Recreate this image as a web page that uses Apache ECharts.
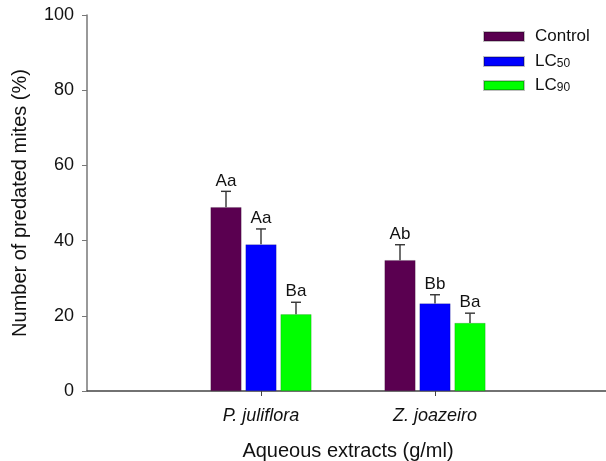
<!DOCTYPE html>
<html>
<head>
<meta charset="utf-8">
<script src="https://cdn.jsdelivr.net/npm/echarts@6/dist/echarts.min.js"></script>
<style>
  html, body { margin: 0; padding: 0; background: #fff; }
  #chart { width: 606px; height: 461px; }
</style>
</head>
<body>
<div id="chart"></div>
<script>
// Predation by extract and concentration (mean ± SE) with significance letters
const categories = ['P. juliflora', 'Z. joazeiro'];
const seriesNames = ['Control', 'LC50', 'LC90'];

const controlValues = [48.9, 34.8];
const controlErrors = [4.2, 4.1];
const controlLetters = ['Aa', 'Ab'];

const lc50Values = [39.0, 23.3];
const lc50Errors = [4.1, 2.3];
const lc50Letters = ['Aa', 'Bb'];

const lc90Values = [20.4, 18.1];
const lc90Errors = [3.2, 2.6];
const lc90Letters = ['Ba', 'Ba'];

const yTicks = [0, 20, 40, 60, 80, 100];

const FONT = 'Liberation Sans, Arial, sans-serif';
const colors = ['#5a0050', '#0000ff', '#00ff00'];
const BAR_W = 31;
const BAR_GAP = 4;

// padded category axis so the two groups sit at 1/3 and 2/3 of the x axis
const axisCats = [''].concat(categories, ['']);

const groups = [
  { values: controlValues, errors: controlErrors, letters: controlLetters },
  { values: lc50Values, errors: lc50Errors, letters: lc50Letters },
  { values: lc90Values, errors: lc90Errors, letters: lc90Letters }
];

const series = [];
groups.forEach((g, s) => {
  series.push({
    name: seriesNames[s],
    type: 'bar',
    barWidth: BAR_W,
    barGap: (BAR_GAP / BAR_W * 100).toFixed(1) + '%',
    itemStyle: { color: colors[s], borderColor: 'rgba(0,0,0,0.25)', borderWidth: 0.6 },
    data: g.values.map((v, i) => [i + 1, v])
  });
});

groups.forEach((g, s) => {
  const offset = (s - 1) * (BAR_W + BAR_GAP);
  series.push({
    type: 'custom',
    z: 5,
    silent: true,
    data: g.values.map((v, i) => [i + 1, v, g.errors[i], g.letters[i]]),
    encode: { x: 0, y: 1 },
    renderItem: function (params, api) {
      const base = api.coord([api.value(0), api.value(1)]);
      const top = api.coord([api.value(0), api.value(1) + api.value(2)]);
      const x = base[0] + offset;
      const style = { stroke: '#333', lineWidth: 1.4 };
      return {
        type: 'group',
        children: [
          { type: 'line', shape: { x1: x, y1: base[1], x2: x, y2: top[1] }, style: style },
          { type: 'line', shape: { x1: x - 5, y1: top[1], x2: x + 5, y2: top[1] }, style: style },
          {
            type: 'text',
            style: {
              text: api.value(3), x: x, y: top[1] - 2,
              textAlign: 'center', textVerticalAlign: 'bottom',
              font: '17px ' + FONT, fill: '#111'
            }
          }
        ]
      };
    }
  });
});

const legendRich = {
  n: { fontSize: 17, fontFamily: FONT, color: '#111', verticalAlign: 'top', lineHeight: 17, padding: [0, 0, 0, 0] },
  s: { fontSize: 12, fontFamily: FONT, color: '#111', verticalAlign: 'bottom', lineHeight: 12, padding: [8, 0, 0, 0] }
};
function legendLabel(name) {
  const m = name.match(/^LC(\d+)$/);
  return m ? '{n|LC}{s|' + m[1] + '}' : '{n|' + name + '}';
}
const legendTops = [28, 50, 74];
const legends = seriesNames.map((name, i) => ({
  data: [name],
  left: 483,
  top: legendTops[i],
  orient: 'vertical',
  itemWidth: 40,
  itemHeight: 9,
  padding: 0,
  icon: 'rect',
  selectedMode: false,
  formatter: legendLabel,
  textStyle: { rich: legendRich, padding: [0, 0, 0, 6] }
}));

const chart = echarts.init(document.getElementById('chart'), null, { renderer: 'canvas' });
chart.setOption({
  backgroundColor: '#fff',
  animation: false,
  legend: legends,
  grid: { left: 87, top: 15, right: -3, bottom: 70, containLabel: false, outerBoundsMode: 'none' },
  xAxis: {
    type: 'category',
    data: axisCats,
    boundaryGap: false,
    name: 'Aqueous extracts (g/ml)',
    nameLocation: 'middle',
    nameGap: 50,
    nameTextStyle: { fontSize: 20, fontFamily: FONT, color: '#111' },
    axisLine: { lineStyle: { color: '#444', width: 1.5 } },
    axisTick: { show: true, length: 5, interval: (i) => i === 1 || i === 2, lineStyle: { color: '#444' } },
    axisLabel: { interval: 0, margin: 16, fontSize: 18, fontStyle: 'italic', fontFamily: FONT, color: '#111' },
    splitLine: { show: false }
  },
  yAxis: {
    type: 'value',
    min: yTicks[0],
    max: yTicks[yTicks.length - 1],
    interval: yTicks[1] - yTicks[0],
    name: 'Number of predated mites (%)',
    nameLocation: 'middle',
    nameGap: 57,
    nameTextStyle: { fontSize: 20, fontFamily: FONT, color: '#111' },
    axisLine: { show: true, lineStyle: { color: '#777', width: 1.5 } },
    axisTick: { show: true, length: 5, lineStyle: { color: '#777' } },
    axisLabel: { margin: 13, fontSize: 18, fontFamily: FONT, color: '#111' },
    splitLine: { show: false }
  },
  series: series
});
</script>
</body>
</html>
